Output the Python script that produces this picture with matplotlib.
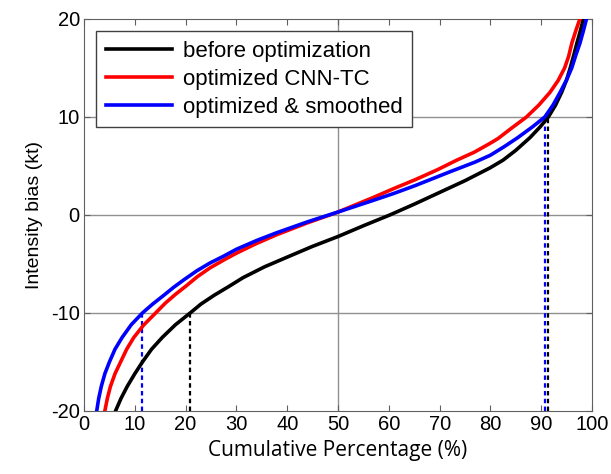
import numpy as np
import matplotlib.pyplot as plt

# percentiles (%) and intensity bias (kt)
pct_before = [6.2, 7.3, 8.5, 10.0, 11.5, 13.3, 15.4, 18.0, 20.9, 23.0, 25.6, 28.5,
              31.3, 35.5, 40.0, 45.0, 50.0, 55.0, 60.2, 65.0, 70.0, 75.0, 79.9,
              82.5, 85.0, 87.8, 89.8, 91.4, 92.8, 94.0, 95.0, 95.7, 96.4, 97.0,
              97.7, 98.3]
bias_before = [-20, -18.7, -17.5, -16.2, -15, -13.7, -12.5, -11.2, -10, -9.1, -8.2, -7.3,
               -6.4, -5.3, -4.3, -3.2, -2.2, -1.1, 0, 1.1, 2.3, 3.5, 4.8,
               5.6, 6.6, 7.9, 9.0, 10, 11.2, 12.5, 13.8, 15, 16.3, 17.5,
               18.8, 20]

pct_cnn = [4.1, 4.6, 5.2, 6.1, 7.2, 8.4, 9.8, 11.8, 14.1, 16.0, 18.0, 20.2,
           22.3, 24.8, 27.5, 30.0, 34.0, 38.0, 44.0, 50.0, 57.0, 61.0, 65.2,
           69.5, 73.4, 76.8, 79.9, 81.5, 84.0, 87.1, 89.5, 91.7, 93.3, 94.6,
           95.4, 96.0, 96.8, 97.6]
bias_cnn = [-20, -18.7, -17.5, -16.2, -15, -13.7, -12.5, -11.2, -10, -9, -8.1, -7.2,
            -6.3, -5.4, -4.6, -3.9, -2.9, -2.0, -0.8, 0.3, 1.8, 2.7, 3.6,
            4.6, 5.6, 6.4, 7.3, 7.8, 8.8, 10, 11.2, 12.5, 13.7, 15,
            16.2, 17.5, 18.8, 20]

pct_smooth = [2.5, 2.9, 3.4, 4.1, 5.0, 6.1, 7.5, 9.3, 11.5, 13.5, 15.7, 17.6,
              19.7, 22.2, 24.8, 27.5, 30.0, 34.0, 38.0, 44.0, 50.0, 57.0, 61.0,
              65.2, 72.0, 77.0, 80.0, 82.8, 85.4, 88.3, 90.7, 92.3, 93.7, 95.0,
              96.0, 96.8, 97.6, 98.3, 98.9]
bias_smooth = [-20, -18.7, -17.5, -16.2, -15, -13.7, -12.5, -11.2, -10, -9.1, -8.2, -7.4,
               -6.6, -5.7, -4.9, -4.2, -3.5, -2.6, -1.8, -0.7, 0.3, 1.5, 2.2,
               3.0, 4.4, 5.4, 6.1, 7.0, 7.9, 9.0, 10, 11.2, 12.5, 13.8,
               15, 16.3, 17.5, 18.8, 20]

# dashed markers: percentile where each curve reaches -10 / +10 kt
mark_pct = [11.5, 20.9, 90.7, 91.4]
mark_bias = [-10, -10, 10, 10]
mark_color = ['blue', 'black', 'blue', 'black']

plt.rcParams['font.family'] = ['Liberation Sans', 'DejaVu Sans']
plt.rcParams['axes.unicode_minus'] = False

fig = plt.figure(figsize=(6.11, 4.74), dpi=100)
ax = fig.add_axes([0.1375, 0.133, 0.8315, 0.827])

# reference lines
for yv in [-10, 0, 10]:
    ax.axhline(yv, color='#909090', lw=1.0, zorder=1)
ax.axvline(50, color='#909090', lw=1.0, zorder=1)

for p, b, c in zip(mark_pct, mark_bias, mark_color):
    ax.plot([p, p], [-20, b], ls=(0, (2, 1.5)), color=c, lw=1.6, zorder=2)

ax.plot(pct_before, bias_before, color='black', lw=2.6, label='before optimization',
        zorder=3, solid_joinstyle='round')
ax.plot(pct_cnn, bias_cnn, color='red', lw=2.6, label='optimized CNN-TC',
        zorder=3, solid_joinstyle='round')
ax.plot(pct_smooth, bias_smooth, color='blue', lw=2.6, label='optimized & smoothed',
        zorder=4, solid_joinstyle='round')

ax.set_xlim(0, 100)
ax.set_ylim(-20, 20)
ax.set_xticks(np.arange(0, 101, 10))
ax.set_yticks([-20, -10, 0, 10, 20])
ax.tick_params(direction='in', top=True, right=True, labelsize=14.5, length=4,
               color='#606060', pad=3)
for s in ax.spines.values():
    s.set_color('#606060')

ax.set_ylabel('Intensity bias (kt)', fontsize=14, labelpad=6)
ax.set_xlabel('Cumulative Percentage (%)', fontsize=15,
              family=['Open Sans', 'DejaVu Sans'], labelpad=4)

leg = ax.legend(loc='upper left', fontsize=16, handlelength=3.0, labelspacing=0.32,
                borderaxespad=0.55, fancybox=False, framealpha=1, handletextpad=0.5,
                borderpad=0.42)
leg.get_frame().set_edgecolor('#404040')
leg.get_frame().set_linewidth(1.0)

fig.savefig('out.png', dpi=100)
